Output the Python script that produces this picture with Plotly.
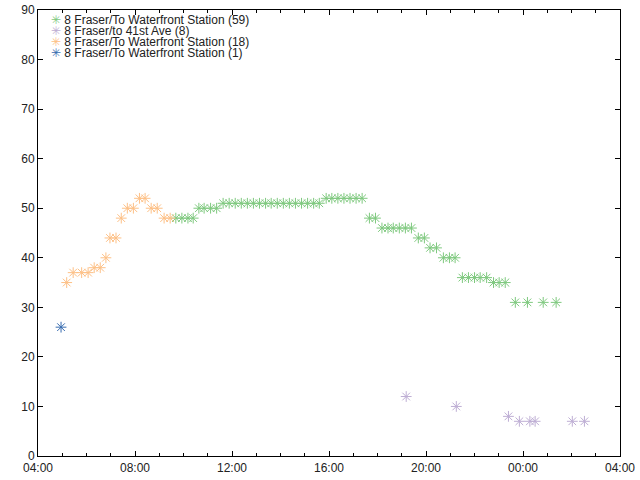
import plotly.graph_objects as go

DAY = "2023-01-02"
NEXT = "2023-01-03"

# series: 8 Fraser/To Waterfront Station (59)
green_times = [
    "09:41", "09:56", "10:11", "10:24",
    "10:38", "10:51", "11:07", "11:22",
    "11:38", "11:53", "12:08", "12:23", "12:38", "12:53", "13:08", "13:23", "13:37",
    "13:52", "14:07", "14:22", "14:37", "14:52", "15:07", "15:22", "15:36",
    "15:53", "16:07", "16:22", "16:37", "16:52", "17:07", "17:22",
    "17:40", "17:55",
    "18:11", "18:26", "18:39", "18:54", "19:09", "19:24",
    "19:41", "19:56",
    "20:10", "20:26",
    "20:43", "20:58", "21:12",
    "21:30", "21:45", "22:00", "22:14", "22:30",
    "22:47", "23:01", "23:16",
    "23:41", "+00:11", "+00:50", "+01:22",
]
green_vals = [
    48, 48, 48, 48,
    50, 50, 50, 50,
    51, 51, 51, 51, 51, 51, 51, 51, 51,
    51, 51, 51, 51, 51, 51, 51, 51,
    52, 52, 52, 52, 52, 52, 52,
    48, 48,
    46, 46, 46, 46, 46, 46,
    44, 44,
    42, 42,
    40, 40, 40,
    36, 36, 36, 36, 36,
    35, 35, 35,
    31, 31, 31, 31,
]

# series: 8 Fraser/to 41st Ave (8)
purple_times = ["19:11", "21:15", "23:24", "23:51", "+00:17", "+00:30", "+02:02", "+02:32"]
purple_vals = [12, 10, 8, 7, 7, 7, 7, 7]

# series: 8 Fraser/To Waterfront Station (18)
orange_times = [
    "05:11", "05:27", "05:48", "06:04", "06:19", "06:34", "06:48", "06:58", "07:13",
    "07:26", "07:41", "07:56", "08:11", "08:25", "08:40", "08:55", "09:12", "09:27",
]
orange_vals = [35, 37, 37, 37, 38, 38, 40, 44, 44, 48, 50, 50, 52, 52, 50, 50, 48, 48]

# series: 8 Fraser/To Waterfront Station (1)
blue_times = ["04:57"]
blue_vals = [26]

series_names = [
    "8 Fraser/To Waterfront Station (59)",
    "8 Fraser/to 41st Ave (8)",
    "8 Fraser/To Waterfront Station (18)",
    "8 Fraser/To Waterfront Station (1)",
]
colors = ["#7fc97f", "#beaed4", "#fdc086", "#386cb0"]

x_range = [DAY + " 04:00", NEXT + " 04:00"]
y_range = [0, 90]

FONT = "Liberation Sans, Arial, sans-serif"


def to_dt(times):
    out = []
    for t in times:
        if t.startswith("+"):
            out.append(NEXT + " " + t[1:])
        else:
            out.append(DAY + " " + t)
    return out


fig = go.Figure()
for name, col, tt, vv in zip(
    series_names,
    colors,
    [green_times, purple_times, orange_times, blue_times],
    [green_vals, purple_vals, orange_vals, blue_vals],
):
    fig.add_trace(
        go.Scatter(
            x=to_dt(tt),
            y=vv,
            mode="markers",
            name=name,
            showlegend=False,
            marker=dict(symbol="asterisk-open", size=9, color=col,
                        line=dict(color=col, width=1)),
        )
    )

# compact legend (gnuplot-style spacing) built from the series names/colours
for i, (name, col) in enumerate(zip(series_names, colors)):
    fig.add_annotation(
        x=0, y=1, xref="paper", yref="paper", xanchor="left", yanchor="middle",
        xshift=11, yshift=-10 - 11 * i, showarrow=False,
        text=f"<span style='color:{col}'>✳</span> {name}",
        font=dict(family=FONT, size=12, color="#222"),
    )

axis_common = dict(
    showline=True, linecolor="black", linewidth=1, mirror="ticks",
    ticks="inside", ticklen=5, tickcolor="black", showgrid=False, zeroline=False,
    automargin=False,
    tickfont=dict(family=FONT, size=12, color="#222"),
)
fig.update_xaxes(
    range=x_range, type="date", dtick=4 * 3600 * 1000, tick0=DAY + " 04:00",
    tickformat="%H:%M", ticklabelstandoff=1,
    minor=dict(dtick=3600 * 1000, ticks="inside", ticklen=3, tickcolor="black", showgrid=False),
    **axis_common,
)
fig.update_yaxes(range=y_range, dtick=10, tick0=0, **axis_common)

fig.update_layout(
    width=640, height=480,
    margin=dict(l=38, r=20, t=10, b=24),
    plot_bgcolor="white", paper_bgcolor="white",
    font=dict(family=FONT, size=12, color="#222"),
    showlegend=False,
)

fig.write_html(
    "out.html",
    config={"displayModeBar": False},
    post_script="document.body.style.margin='0';document.body.style.padding='0';",
)
